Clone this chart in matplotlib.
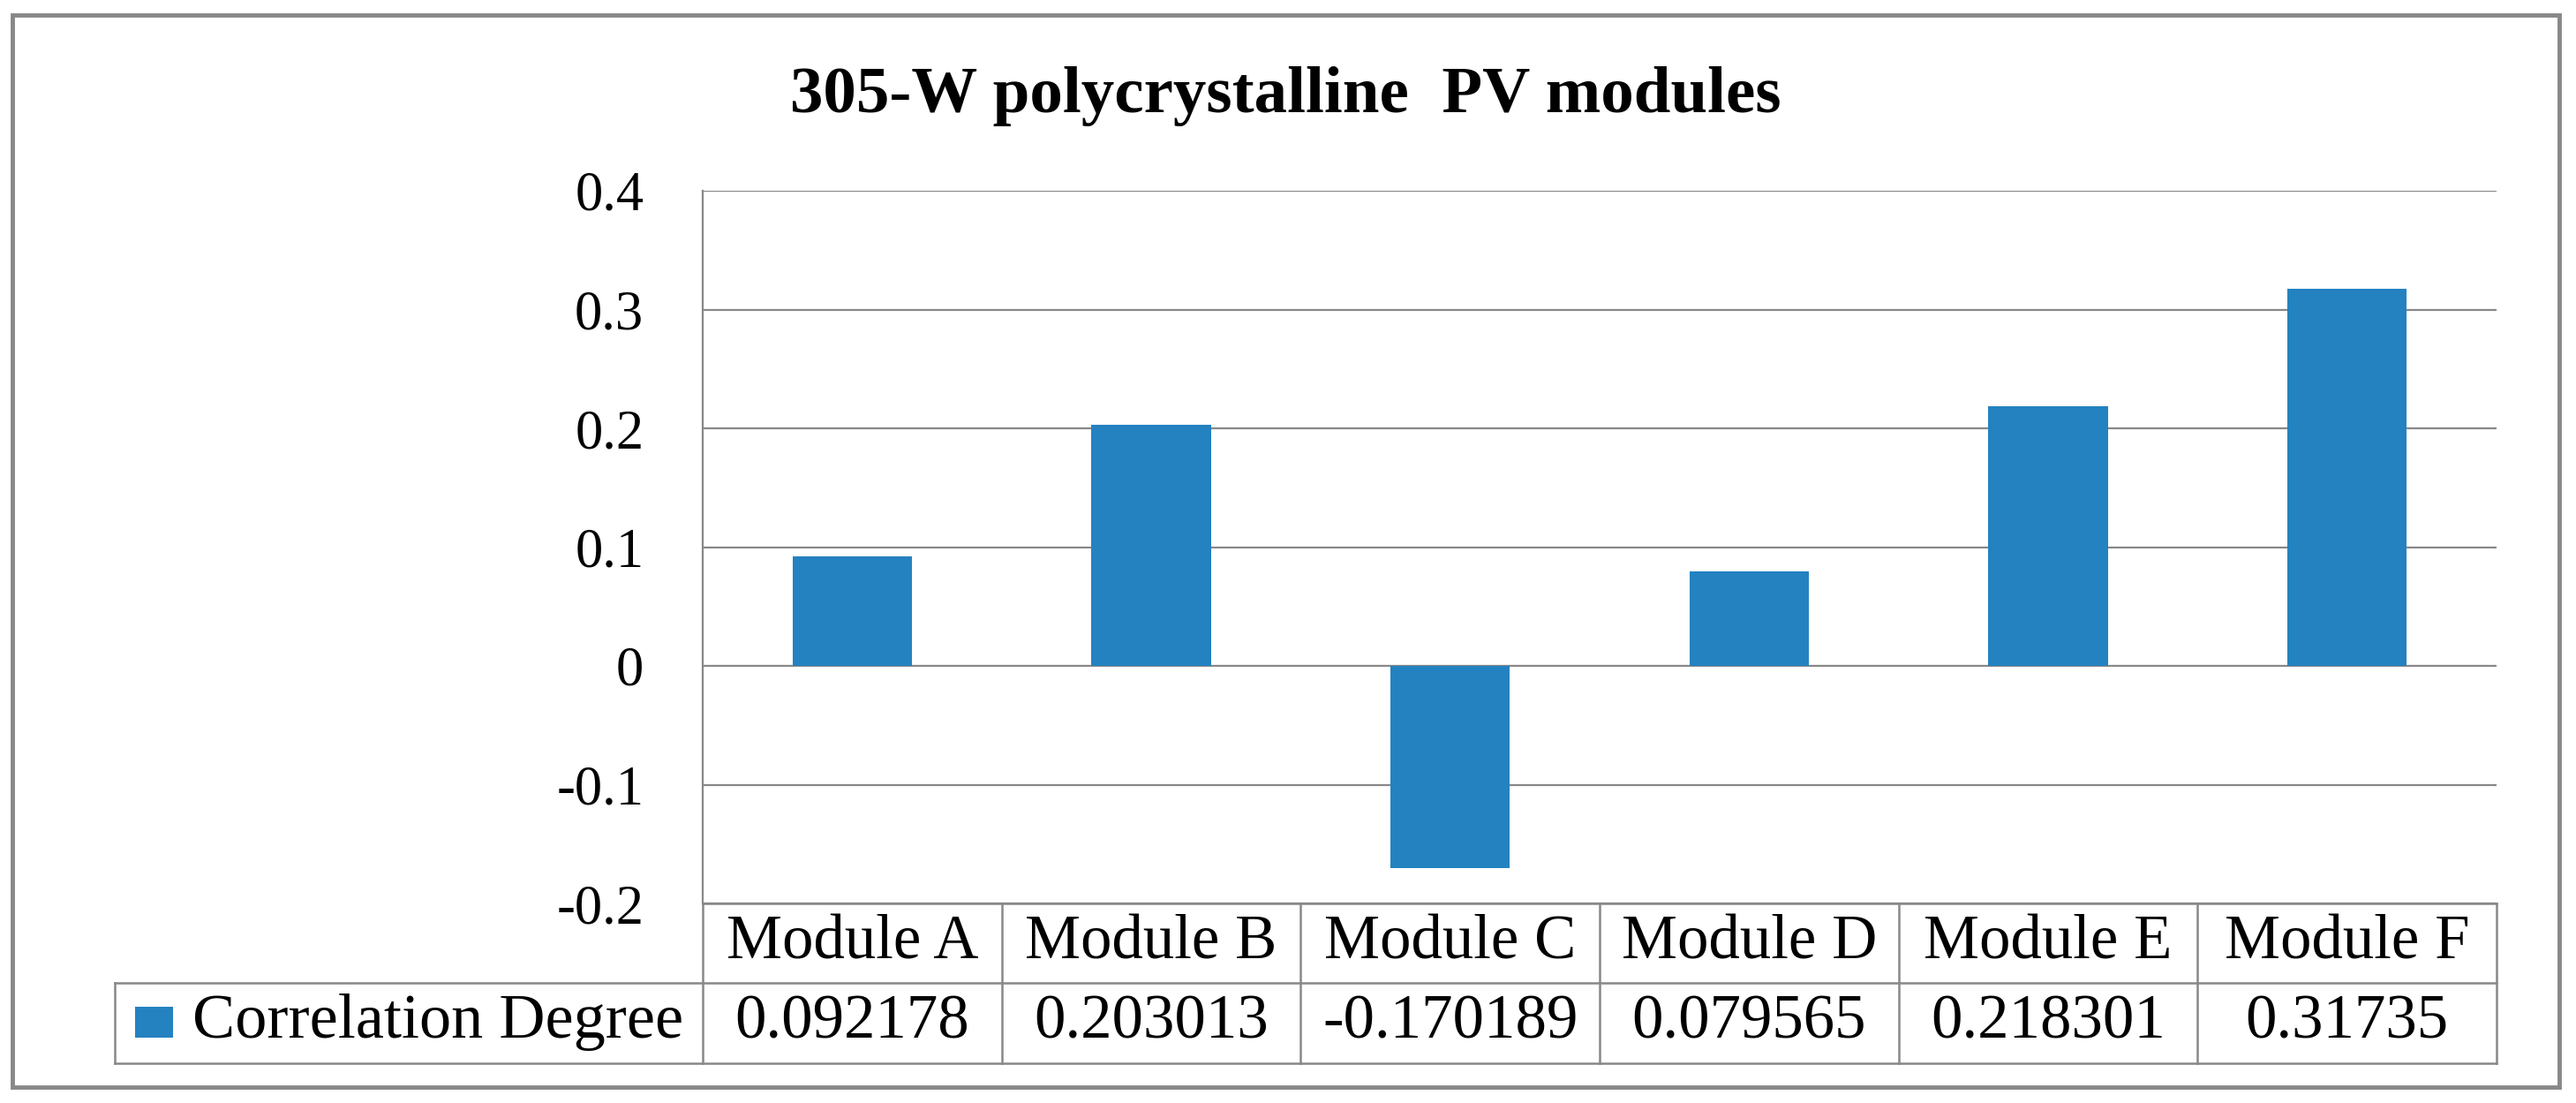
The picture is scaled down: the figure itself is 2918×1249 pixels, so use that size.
import numpy as np
import matplotlib
matplotlib.use('Agg')
import matplotlib.pyplot as plt
from matplotlib.transforms import blended_transform_factory
from matplotlib.lines import Line2D
from matplotlib.patches import Rectangle

# chart data
modules = ['Module A', 'Module B', 'Module C', 'Module D', 'Module E', 'Module F']
corr = [0.092178, 0.203013, -0.170189, 0.079565, 0.218301, 0.31735]
corr_text = ['0.092178', '0.203013', '-0.170189', '0.079565', '0.218301', '0.31735']
series_name = 'Correlation Degree'
yticks = [0.4, 0.3, 0.2, 0.1, 0, -0.1, -0.2]
ytick_labels = ['0.4', '0.3', '0.2', '0.1', '0', '-0.1', '-0.2']
title = '305-W polycrystalline  PV modules'

W, H = 2918, 1249
bar_col = '#2482C0'
grey = '#888888'

plt.rcParams['font.family'] = ['Liberation Serif', 'DejaVu Serif']

def fx(px):
    return px / W

def fy(py):
    return 1 - py / H

fig = plt.figure(figsize=(W / 100, H / 100), dpi=100)

# plot area (pixel box from the reference)
left, right, top, bottom = 796, 2828, 216, 1023
ax = fig.add_axes([fx(left), fy(bottom), fx(right) - fx(left), fy(top) - fy(bottom)])
x = np.arange(len(modules))
ax.bar(x, corr, width=0.4, color=bar_col, zorder=3)
ax.set_xlim(-0.5, len(modules) - 0.5)
ax.set_ylim(-0.2, 0.4)
ax.set_yticks(yticks)
ax.set_yticklabels(ytick_labels, fontsize=45)
ax.set_xticks([])
ax.tick_params(axis='y', length=0, pad=48)
ax.yaxis.grid(True, color=grey, linewidth=1.6)
ax.set_axisbelow(True)
for s in ['top', 'right', 'bottom']:
    ax.spines[s].set_visible(False)
ax.spines['left'].set_color(grey)
ax.spines['left'].set_linewidth(1.6)

# data table under the plot
trans = blended_transform_factory(ax.transData, fig.transFigure)
row1, row2, row3 = 1023, 1113, 1204
tbl_left = 130

def hline(x0, x1, y, tr=fig.transFigure, lw=1.8):
    fig.add_artist(Line2D([x0, x1], [y, y], transform=tr, color=grey, linewidth=lw))

def vline(xv, y0, y1, tr=fig.transFigure, lw=1.8):
    fig.add_artist(Line2D([xv, xv], [y0, y1], transform=tr, color=grey, linewidth=lw))

hline(-0.5, len(modules) - 0.5, fy(row1), tr=trans)
hline(fx(tbl_left), fx(right), fy(row2))
hline(fx(tbl_left), fx(right), fy(row3))
for i in range(len(modules) + 1):
    vline(i - 0.5, fy(row1), fy(row3), tr=trans)
vline(fx(tbl_left), fy(row2), fy(row3))

for i in range(len(modules)):
    ax.text(i, fy(1085), modules[i], transform=trans, ha='center', va='baseline', fontsize=51)
    ax.text(i, fy(1175), corr_text[i], transform=trans, ha='center', va='baseline', fontsize=51)

# legend key in the table
fig.add_artist(Rectangle((fx(153), fy(1175)), fx(196) - fx(153), fy(1140) - fy(1175),
                         transform=fig.transFigure, facecolor=bar_col, edgecolor='none'))
fig.text(fx(218), fy(1175), series_name, ha='left', va='baseline', fontsize=52)

# title
fig.text(fx(1456), fy(127), title, ha='center', va='baseline', fontsize=54, weight='bold')

# outer chart border
fig.add_artist(Rectangle((fx(14), fy(1231)), fx(2899) - fx(14), fy(17) - fy(1231),
                         transform=fig.transFigure, facecolor='none', edgecolor=grey, linewidth=3.5))

plt.savefig('out.png', dpi=100)
